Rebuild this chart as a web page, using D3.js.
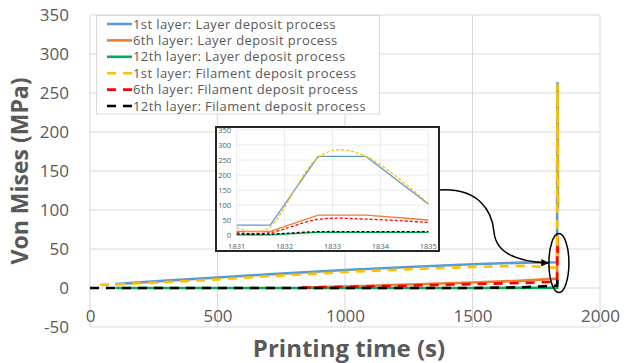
<!DOCTYPE html>
<html>
<head>
<meta charset="utf-8">
<script src="https://cdn.jsdelivr.net/npm/d3@7/dist/d3.min.js"></script>
<style>
  html, body { margin: 0; padding: 0; background: #fff; }
  svg { display: block; }
  text { font-family: "Open Sans", "DejaVu Sans", sans-serif; fill: #595959; }
</style>
</head>
<body>
<svg id="chart" width="624" height="363"></svg>
<script>
// ---- data: von Mises stress (MPa) over printing time (s) ----
const layer1Time = [100, 300, 500, 700, 1000, 1250, 1500, 1700, 1831, 1831.7, 1832.7, 1833.7, 1835];
const layer1Vals = [5, 9.5, 13.5, 17.5, 23, 27, 30.5, 32.5, 33, 33, 262, 262, 103];

const layer6Time = [830, 1000, 1250, 1500, 1700, 1831, 1831.7, 1832.7, 1833.7, 1835];
const layer6Vals = [0.5, 2, 4.5, 7, 9.5, 12, 12, 66, 66, 50];

const layer12Time = [100, 500, 1000, 1500, 1831, 1831.7, 1832.7, 1833.7, 1835];
const layer12Vals = [0, 0, 0, 0, 0.5, 0.5, 9, 9, 9];

const fil1Time = [40, 100, 300, 500, 700, 1000, 1250, 1500, 1700, 1831, 1831.7, 1832.7, 1833.7, 1835];
const fil1Vals = [4, 4.5, 7.5, 11, 15, 20.5, 24, 27, 28.5, 26, 27, 258, 262, 105];

const fil6Time = [830, 1000, 1250, 1500, 1700, 1831, 1831.7, 1832.7, 1833.7, 1835];
const fil6Vals = [0.5, 1.5, 3, 5, 6.5, 8, 8, 52, 53, 42];

const fil12Time = [0, 500, 1000, 1500, 1700, 1831, 1831.7, 1832.7, 1833.7, 1835];
const fil12Vals = [0, 0, 0, 0, 1, 3, 3, 11, 11, 11];

const seriesNames = [
  "1st layer: Layer deposit process",
  "6th layer: Layer deposit process",
  "12th layer: Layer deposit process",
  "1st layer: Filament deposit process",
  "6th layer: Filament deposit process",
  "12th layer: Filament deposit process"
];
const seriesColors = ["#5b9bd5", "#ed7d31", "#00b050", "#ffc000", "#ff0000", "#000000"];
const seriesDashed = [false, false, false, true, true, true];

const xTicks = [0, 500, 1000, 1500, 2000];
const yTicks = [-50, 0, 50, 100, 150, 200, 250, 300, 350];
const insetXTicks = [1831, 1832, 1833, 1834, 1835];
const insetYTicks = [0, 50, 100, 150, 200, 250, 300, 350];

const series = [
  [layer1Time, layer1Vals], [layer6Time, layer6Vals], [layer12Time, layer12Vals],
  [fil1Time, fil1Vals], [fil6Time, fil6Vals], [fil12Time, fil12Vals]
].map(([t, v], i) => ({
  name: seriesNames[i], color: seriesColors[i], dashed: seriesDashed[i],
  points: t.map((d, k) => ({ t: d, v: v[k] }))
}));

const svg = d3.select("#chart");
const plain = d => String(d);   // keeps the ASCII hyphen on negative ticks

// ---- main plot ----
const x = d3.scaleLinear().domain([0, 2000]).range([90, 600]);
const y = d3.scaleLinear().domain([-50, 350]).range([327, 15]);

const grid = svg.append("g");
grid.selectAll("line.h").data(yTicks).join("line")
  .attr("x1", x(0)).attr("x2", x(2000))
  .attr("y1", d => y(d)).attr("y2", d => y(d))
  .attr("stroke", "#d9d9d9").attr("stroke-width", 1);
grid.selectAll("line.v").data(xTicks).join("line")
  .attr("y1", y(-50)).attr("y2", y(350))
  .attr("x1", d => x(d)).attr("x2", d => x(d))
  .attr("stroke", "#d9d9d9").attr("stroke-width", 1);

const xAxis = svg.append("g").attr("transform", `translate(0,${y(-50)})`)
  .call(d3.axisBottom(x).tickValues(xTicks).tickSize(0).tickPadding(0).tickFormat(plain));
xAxis.select(".domain").remove();
xAxis.selectAll("text").attr("dy", null).attr("y", -5).style("font-size", "17px").attr("fill", "#595959");

const yAxis = svg.append("g").attr("transform", `translate(${x(0)},0)`)
  .call(d3.axisLeft(y).tickValues(yTicks).tickSize(0).tickPadding(21).tickFormat(plain));
yAxis.select(".domain").remove();
yAxis.selectAll("text").style("font-size", "17px").attr("fill", "#595959");

const mainLine = d3.line().x(d => x(d.t)).y(d => y(d.v));
svg.append("g").selectAll("path").data(series).join("path")
  .attr("d", d => mainLine(d.points))
  .attr("fill", "none")
  .attr("stroke", d => d.color)
  .attr("stroke-width", 2.6)
  .attr("stroke-dasharray", d => d.dashed ? "9,7" : null);

// axis titles
svg.append("text")
  .attr("transform", `translate(28,${(y(-50) + y(350)) / 2}) rotate(-90)`)
  .attr("text-anchor", "middle")
  .style("font-size", "23px").style("font-weight", "bold")
  .text("Von Mises (MPa)");
svg.append("text")
  .attr("x", 349).attr("y", 357)
  .attr("text-anchor", "middle")
  .style("font-size", "24px").style("font-weight", "bold")
  .text("Printing time (s)");

// ---- legend ----
const legend = svg.append("g");
legend.append("rect")
  .attr("x", 96.5).attr("y", 15.5).attr("width", 283).attr("height", 98.5)
  .attr("fill", "#fff").attr("stroke", "#d9d9d9");
const rows = legend.selectAll("g").data(series).join("g")
  .attr("transform", (d, i) => `translate(0,${24 + i * 16.4})`);
rows.append("line")
  .attr("x1", 107).attr("x2", 132).attr("y1", 0).attr("y2", 0)
  .attr("stroke", d => d.color).attr("stroke-width", 2.6)
  .attr("stroke-dasharray", d => d.dashed ? "9,7" : null);
rows.append("text")
  .attr("x", 133).attr("y", 4.5)
  .style("font-size", "13px")
  .style("letter-spacing", "0.4px")
  .text(d => d.name);

// ---- zoomed inset around the deposit peak ----
const inset = svg.append("g");
inset.append("rect")
  .attr("x", 216).attr("y", 127).attr("width", 223).attr("height", 124)
  .attr("fill", "#fff").attr("stroke", "#262626").attr("stroke-width", 2);

const ix = d3.scaleLinear().domain([1831, 1835]).range([236.7, 428.3]);
const iy = d3.scaleLinear().domain([0, 350]).range([235, 130]);

inset.selectAll("line.h").data(insetYTicks).join("line")
  .attr("x1", ix(1831)).attr("x2", ix(1835))
  .attr("y1", d => iy(d)).attr("y2", d => iy(d))
  .attr("stroke", "#e6e6e6").attr("stroke-width", 0.8);
inset.selectAll("line.v").data(insetXTicks).join("line")
  .attr("y1", iy(0)).attr("y2", iy(350))
  .attr("x1", d => ix(d)).attr("x2", d => ix(d))
  .attr("stroke", "#e6e6e6").attr("stroke-width", 0.8);

inset.selectAll("text.yt").data(insetYTicks).join("text")
  .attr("x", 231).attr("y", d => iy(d) + 2.5)
  .attr("text-anchor", "end").style("font-size", "7.5px")
  .text(d => d);
inset.selectAll("text.xt").data(insetXTicks).join("text")
  .attr("x", d => ix(d)).attr("y", 248.5)
  .attr("text-anchor", "middle").style("font-size", "7.5px")
  .text(d => d);

const insetPoints = d => d.points.filter(p => p.t >= 1831);
const insetLine = d3.line().x(d => ix(d.t)).y(d => iy(d.v));
const insetSmooth = d3.line().x(d => ix(d.t)).y(d => iy(d.v)).curve(d3.curveCardinal.tension(0));
inset.append("g").selectAll("path").data(series).join("path")
  .attr("d", d => d.dashed ? insetSmooth(insetPoints(d)) : insetLine(insetPoints(d)))
  .attr("fill", "none")
  .attr("stroke", d => d.color)
  .attr("stroke-width", 1.3)
  .attr("stroke-dasharray", d => d.dashed ? "3,2" : null);

// ---- callout: ellipse around the peak and connector to the inset ----
svg.append("defs").append("marker")
  .attr("id", "arrow").attr("viewBox", "0 0 10 10")
  .attr("refX", 9).attr("refY", 5)
  .attr("markerWidth", 5).attr("markerHeight", 5)
  .attr("orient", "auto")
  .append("path").attr("d", "M0,0 L10,5 L0,10 z").attr("fill", "#000");

svg.append("ellipse")
  .attr("cx", x(1835) + 1).attr("cy", y(32))
  .attr("rx", 10).attr("ry", 29.5)
  .attr("fill", "none").attr("stroke", "#000").attr("stroke-width", 1.5);

svg.append("path")
  .attr("d", "M440,190 C478,188 492,210 494,232 C496,256 525,262 548,263")
  .attr("fill", "none").attr("stroke", "#000").attr("stroke-width", 1.5)
  .attr("marker-end", "url(#arrow)");
</script>
</body>
</html>
